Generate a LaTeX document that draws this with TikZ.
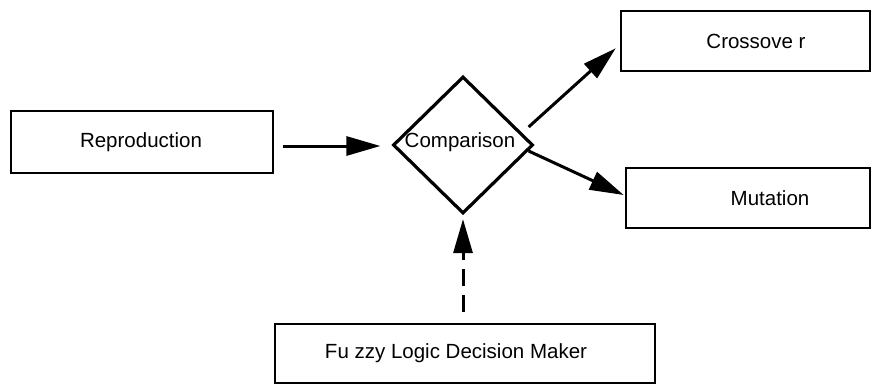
\documentclass[tikz,border=0pt]{standalone}
\usepackage{fontspec}
\setmainfont{Liberation Sans}
\usetikzlibrary{shapes.geometric,arrows.meta}
\begin{document}
\begin{tikzpicture}[x=1pt,y=-1pt,
  box/.style={draw,line width=2.6pt,rectangle,inner sep=0pt},
  lbl/.style={font=\fontsize{20.5}{24}\selectfont,inner sep=0pt},
  conn/.style={line width=3pt,-{Triangle[length=34pt,width=19pt]}},
  dconn/.style={conn,dash pattern=on 17pt off 9pt},
]
\useasboundingbox (0,0) rectangle (872,384);
\node[box,minimum width=262pt,minimum height=62pt] (rep) at (142,142) {};
\node[lbl] (repT) at (141,142) {Reproduction};
\node[draw,diamond,line width=3.2pt,inner sep=0pt,minimum width=140pt,minimum height=137pt] (cmp) at (463,145) {};
\node[lbl] (cmpT) at (460,142) {Comparison};
\node[box,minimum width=249pt,minimum height=60pt] (cross) at (745.5,41) {};
\node[lbl] (crossT) at (756,41) {Crossove r};
\node[box,minimum width=244pt,minimum height=60pt] (mut) at (748,198) {};
\node[lbl] (mutT) at (770,198) {Mutation};
\node[box,minimum width=380pt,minimum height=59pt] (fuzzy) at (465,353.5) {};
\node[lbl] (fuzzyT) at (456,353.5) {Fu zzy Logic Decision Maker};
\draw[conn,shorten <=9pt,shorten >=11pt] (rep.east |- 0,146) coordinate (a1) -- (cmp.west |- a1);
\draw[conn] ([shift={(-6,-18)}]cmp.east) -- ([shift={(-4,-24)}]cross.south west);
\draw[conn] ([shift={(-6,6)}]cmp.east) -- ([shift={(-1,-3)}]mut.west);
\draw[dconn,shorten <=11pt,shorten >=4pt] (cmp.south |- fuzzy.north) -- (cmp.south);
\end{tikzpicture}
\end{document}
